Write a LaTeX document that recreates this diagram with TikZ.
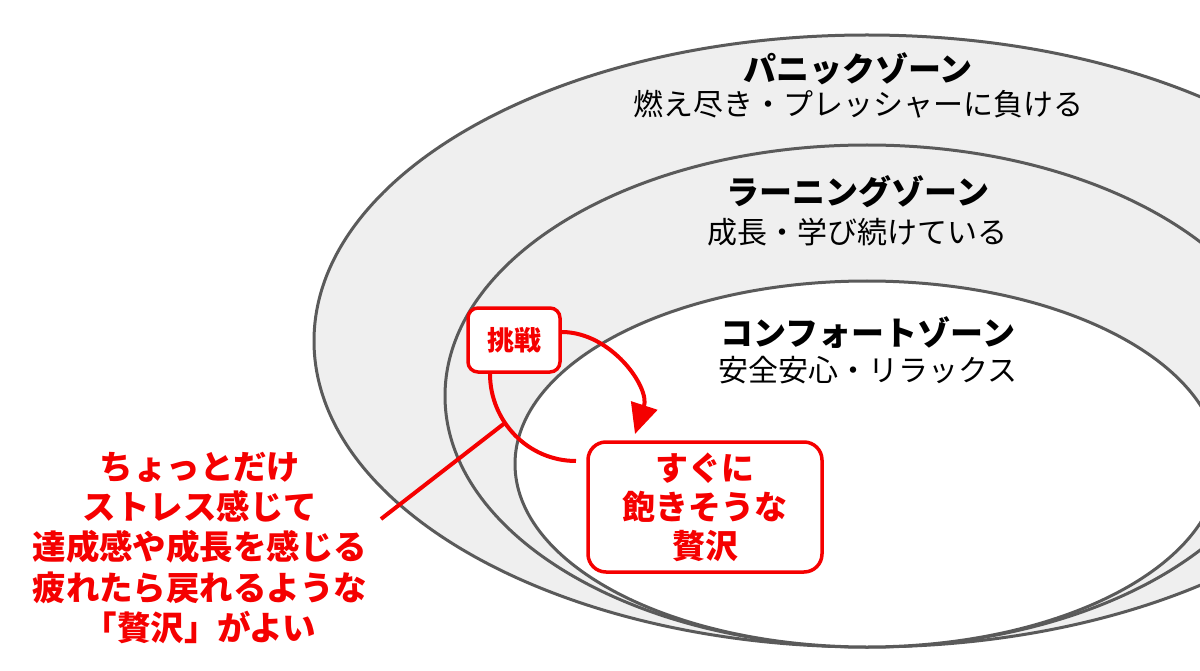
\documentclass[tikz,border=0pt]{standalone}
\usepackage{fontspec}
\setmainfont{Noto Sans CJK JP}
\usetikzlibrary{arrows.meta}
\definecolor{zoneline}{RGB}{90,90,90}
\definecolor{zonefill}{RGB}{239,239,239}
\definecolor{accent}{RGB}{245,0,0}
\tikzset{
  zone/.style={draw=zoneline, line width=3pt},
  zonetitle/.style={font=\bfseries\fontsize{33}{38}\selectfont, inner sep=0pt, anchor=center},
  zonesub/.style={font=\fontsize{30}{36}\selectfont, inner sep=0pt, anchor=center},
  redbox/.style={draw=accent, line width=3.5pt, fill=white, text=accent, align=center, inner sep=0pt},
  redline/.style={draw=accent, line width=4pt},
  note/.style={text=accent, align=center, inner sep=0pt, font=\bfseries\fontsize{33.5}{40.3}\selectfont}
}
\begin{document}
\begin{tikzpicture}[x=1pt,y=-1pt]
\useasboundingbox (0,0) rectangle (1200,671);
\clip (0,0) rectangle (1200,671);
\fill[white] (0,0) rectangle (1200,671);
% zones
\draw[zone, fill=zonefill] (867,341) ellipse [x radius=553, y radius=306];
\draw[zone, fill=zonefill] (867,396) ellipse [x radius=422, y radius=251];
\draw[zone, fill=white] (867,464) ellipse [x radius=352, y radius=183];
% zone labels
\node[zonetitle] (panicT) at (858,69) {パニックゾーン};
\node[zonesub] (panicS) at (858,104) {燃え尽き・プレッシャーに負ける};
\node[zonetitle] (learnT) at (858,192) {ラーニングゾーン};
\node[zonesub] (learnS) at (857,232) {成長・学び続けている};
\node[zonetitle] (comfT) at (868,333) {コンフォートゾーン};
\node[zonesub] (comfS) at (868,370) {安全安心・リラックス};
% red boxes
\node[redbox, minimum width=92pt, minimum height=64pt, rounded corners=10pt,
      font=\bfseries\fontsize{27}{32}\selectfont] (challenge) at (514,340) {挑戦};
\node[redbox, minimum width=234pt, minimum height=130pt, rounded corners=18pt,
      font=\bfseries\fontsize{33}{39}\selectfont] (luxury) at (705,507) {すぐに\\飽きそうな\\贅沢};
% arrow from challenge
\coordinate (tip) at (635,434);
\draw[redline, -{Triangle[length=30pt,width=27pt]}] ([yshift=8pt]challenge.east) to[out=0,in=72] (tip);
% arc under challenge
\coordinate (arcend) at (576,461);
\draw[redline] ([xshift=-24pt]challenge.south) to[out=-90,in=180] coordinate[pos=0.38] (arcpt) (arcend);
% note
\node[note] (note) at (200,548) {ちょっとだけ\\ストレス感じて\\達成感や成長を感じる\\疲れたら戻れるような\\「贅沢」がよい};
\coordinate (noteend) at (381,519);
\draw[redline] (noteend) -- (arcpt);
\end{tikzpicture}
\end{document}
